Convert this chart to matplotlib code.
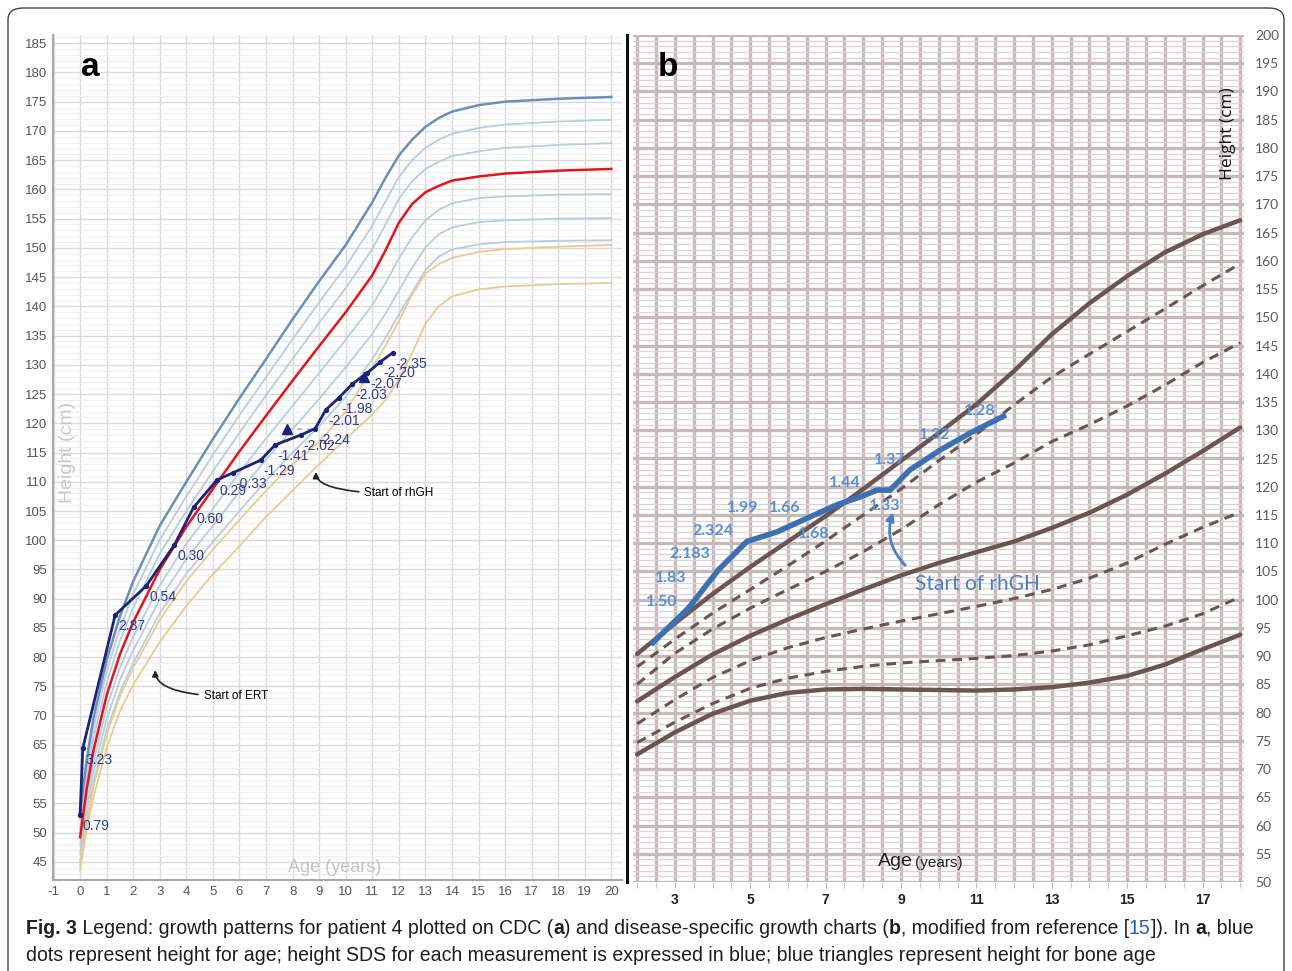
import numpy as np
import matplotlib.pyplot as plt
from matplotlib.ticker import MultipleLocator, FixedLocator
from matplotlib.patches import FancyBboxPatch

plt.rcParams['axes.unicode_minus'] = False

# ---------------- data: panel a (CDC chart) ----------------
ages_a = [0, 0.25, 0.5, 1, 1.5, 2, 3, 4, 5, 6, 7, 8, 9, 10, 11, 11.5, 12, 12.5, 13, 13.5, 14, 15, 16, 18, 20]
p97 = [53.5, 62.5, 69.5, 79.5, 87.0, 93.0, 102.5, 110.0, 117.3, 124.3, 131.0, 137.8, 144.3, 150.5, 157.8, 162.0, 165.8, 168.5, 170.7, 172.2, 173.3, 174.4, 175.0, 175.5, 175.8]
p90 = [52.1, 60.9, 67.7, 77.6, 84.9, 90.8, 100.1, 107.5, 114.6, 121.4, 127.9, 134.4, 140.7, 146.8, 153.8, 158.0, 162.1, 165.0, 167.1, 168.5, 169.5, 170.5, 171.1, 171.6, 171.9]
p75 = [50.7, 59.3, 66.0, 75.6, 82.8, 88.5, 97.7, 105.0, 111.8, 118.4, 124.8, 131.0, 137.2, 143.1, 149.8, 154.0, 158.4, 161.4, 163.5, 164.7, 165.7, 166.5, 167.1, 167.6, 167.9]
p50 = [49.2, 57.5, 64.0, 73.5, 80.5, 86.0, 95.0, 102.3, 108.8, 115.2, 121.3, 127.3, 133.2, 139.0, 145.3, 149.6, 154.3, 157.5, 159.5, 160.6, 161.5, 162.2, 162.7, 163.2, 163.5]
p25 = [47.7, 55.7, 62.0, 71.4, 78.2, 83.5, 92.3, 99.4, 105.4, 111.6, 117.4, 123.0, 128.6, 134.3, 140.2, 144.0, 148.2, 151.8, 154.7, 156.5, 157.6, 158.5, 158.8, 159.1, 159.2]
p10 = [46.3, 54.1, 60.3, 69.4, 76.1, 81.2, 89.9, 96.8, 102.5, 108.3, 113.8, 119.0, 124.2, 129.6, 135.3, 138.8, 142.7, 146.6, 150.1, 152.3, 153.5, 154.4, 154.7, 155.0, 155.1]
p03 = [45.0, 52.5, 58.5, 67.5, 74.0, 79.0, 87.5, 94.3, 99.7, 105.0, 110.2, 115.0, 119.5, 124.5, 131.0, 134.6, 138.6, 142.4, 146.2, 148.5, 149.7, 150.6, 151.0, 151.2, 151.3]
yel1 = [44.5, 51.8, 57.8, 66.8, 73.3, 78.2, 86.4, 93.0, 98.4, 103.5, 108.5, 113.0, 116.8, 122.0, 129.5, 133.3, 137.5, 142.0, 145.6, 147.2, 148.3, 149.3, 149.8, 150.2, 150.5]
yel2 = [43.5, 50.5, 56.0, 64.5, 70.8, 75.3, 82.6, 88.8, 94.2, 99.0, 104.0, 108.5, 113.0, 117.3, 121.5, 124.0, 127.5, 132.0, 137.0, 140.0, 141.7, 142.9, 143.4, 143.8, 144.0]

# patient 4, height for age with SDS labels
pt_age = [0.0, 0.1, 1.32, 2.49, 3.55, 4.27, 5.15, 5.74, 6.8, 7.34, 8.31, 8.85, 9.25, 9.73, 10.24, 10.81, 11.3, 11.78]
pt_height = [53.0, 64.4, 87.2, 92.2, 99.2, 105.6, 110.3, 111.5, 113.7, 116.3, 118.0, 119.1, 122.3, 124.3, 126.7, 128.6, 130.5, 132.1]
pt_sds = ['0.79', '3.23', '2.87', '0.54', '0.30', '0.60', '0.29', '-0.33', '-1.29', '-1.41', '-2.02',
          '-2.24', '-2.01', '-1.98', '-2.03', '-2.07', '-2.20', '-2.35']
# bone age triangles
bone_age = [7.78, 10.67]
bone_height = [119.1, 128.0]

# ---------------- data: panel b (disease-specific chart) ----------------
ages_b = [2, 3, 4, 5, 6, 7, 8, 9, 10, 11, 12, 13, 14, 15, 16, 17, 18]
b_s1 = [90.4, 95.8, 101.0, 105.8, 110.3, 114.8, 119.6, 124.6, 129.5, 134.6, 140.5, 147.0, 152.5, 157.3, 161.5, 164.7, 167.2]
b_d1 = [88.1, 93.0, 97.6, 101.8, 106.0, 110.4, 115.0, 119.6, 124.6, 129.3, 134.5, 139.4, 143.5, 147.5, 151.5, 155.6, 159.5]
b_d2 = [85.0, 90.5, 94.8, 98.5, 101.8, 105.0, 108.5, 112.4, 116.8, 120.8, 124.2, 128.0, 131.0, 134.3, 138.0, 142.0, 145.5]
b_s2 = [82.0, 86.3, 90.3, 93.6, 96.5, 99.2, 101.8, 104.3, 106.5, 108.4, 110.3, 112.7, 115.4, 118.6, 122.3, 126.3, 130.5]
b_d3 = [78.0, 82.3, 86.2, 89.2, 91.5, 93.3, 94.8, 96.2, 97.5, 98.8, 100.2, 101.8, 103.8, 106.5, 109.8, 112.8, 115.5]
b_d4 = [74.7, 78.3, 81.6, 84.3, 86.1, 87.3, 88.2, 88.8, 89.2, 89.6, 90.1, 90.9, 92.0, 93.6, 95.3, 97.5, 100.5]
b_s3 = [72.6, 76.5, 79.8, 82.1, 83.5, 84.1, 84.2, 84.1, 84.0, 83.9, 84.1, 84.5, 85.3, 86.5, 88.5, 91.2, 93.8]

pb_age = [2.42, 3.36, 4.16, 4.91, 5.71, 6.5, 7.3, 7.92, 8.36, 8.71, 9.24, 10.04, 10.83, 11.72]
pb_height = [92.4, 98.5, 105.3, 110.3, 112.0, 114.4, 116.8, 118.2, 119.4, 119.4, 123.0, 126.5, 129.5, 132.5]
pb_labels = ['1.50', '1.83', '2.183', '2.324', '1.99', '1.66', '1.68', '1.44', '1.33', '1.37', '1.32', '1.28']
pb_label_age = [2.66, 2.90, 3.39, 4.01, 4.80, 5.91, 6.68, 7.52, 8.58, 8.69, 9.90, 11.10]
pb_label_h = [99.6, 103.9, 108.0, 112.2, 116.3, 116.3, 111.6, 120.7, 116.5, 124.7, 129.2, 133.4]

W, H = 1292, 971
fig = plt.figure(figsize=(W / 100, H / 100), dpi=100)

def px_rect(x0, y0, x1, y1):
    return [x0 / W, 1 - y1 / H, (x1 - x0) / W, (y1 - y0) / H]

sans = ['Liberation Sans', 'DejaVu Sans']
lato = ['Lato', 'DejaVu Sans']

# ================= panel a =================
ax = fig.add_axes(px_rect(53, 35, 622, 880))
ax.set_xlim(-1.02, 20.4)
ax.set_ylim(41.9, 186.4)
ax.yaxis.set_minor_locator(MultipleLocator(1))
ax.grid(which='major', color='#dadada', lw=1.0)
ax.grid(which='minor', axis='y', color='#eeeeee', lw=0.7)
ax.set_axisbelow(True)
ax.set_xticks(range(-1, 21))
ax.set_yticks(range(45, 186, 5))
ax.tick_params(which='both', length=0, labelsize=9.5, labelcolor='#555555', pad=4)
for lab in ax.get_xticklabels() + ax.get_yticklabels():
    lab.set_family(sans)
for s in ['top', 'right']:
    ax.spines[s].set_visible(False)
for s in ['left', 'bottom']:
    ax.spines[s].set_color('#a8a8a8')
    ax.spines[s].set_linewidth(1.5)

light_blue = '#b9cde0'
for curve in [p90, p75, p25, p10, p03]:
    ax.plot(ages_a, curve, color=light_blue, lw=1.3, zorder=2)
for curve in [yel1, yel2]:
    ax.plot(ages_a, curve, color='#e8cc8f', lw=1.3, zorder=2)
ax.plot(ages_a, p97, color='#6b90b8', lw=1.8, zorder=3)
ax.plot(ages_a, p50, color='#e3141b', lw=1.8, zorder=3)

# bone age link (dashed) and triangles
ax.plot([bone_age[0], pt_age[11]], [bone_height[0], pt_height[11]], color='#b0b4c8', lw=1.2,
        ls=(0, (3, 3)), zorder=4)
ax.plot(pt_age, pt_height, color='#1b237a', lw=2.0, marker='o', ms=2.8, zorder=5)
ax.plot(bone_age, bone_height, ls='none', marker='^', ms=7, color='#1b237a', zorder=6)
for a, h, s in zip(pt_age, pt_height, pt_sds):
    ax.annotate(s, (a, h), xytext=(2, -8), textcoords='offset points', fontsize=10,
                color='#323b8c', va='center', ha='left', family=sans, zorder=7)

ax.annotate('Start of ERT', xy=(2.83, 77.8), xytext=(4.65, 73.3), fontsize=8.5, family=sans,
            va='center', ha='left',
            arrowprops=dict(arrowstyle='-|>', color='#222222', lw=1.2, mutation_scale=9,
                            shrinkA=2, shrinkB=0,
                            connectionstyle='angle3,angleA=0,angleB=90'))
ax.annotate('Start of rhGH', xy=(8.88, 111.7), xytext=(10.7, 108.0), fontsize=8.5, family=sans,
            va='center', ha='left',
            arrowprops=dict(arrowstyle='-|>', color='#222222', lw=1.2, mutation_scale=9,
                            shrinkA=2, shrinkB=0,
                            connectionstyle='angle3,angleA=0,angleB=90'))

ax.text(-0.48, 115, 'Height (cm)', rotation=90, fontsize=14, color='#c9c9c9', va='center',
        ha='center', family=sans)
ax.text(9.6, 42.6, 'Age (years)', fontsize=13, color='#c4c4c4', va='bottom', ha='center',
        family=sans)
fig.text(90 / W, 1 - 68 / H, 'a', fontsize=24, fontweight='bold', ha='center', va='center',
         family=sans)

# ================= panel b =================
bx = fig.add_axes(px_rect(633, 35, 1244, 882))
bx.set_xlim(1.89, 18.1)
bx.set_ylim(50, 200)
bx.xaxis.set_major_locator(FixedLocator([3, 5, 7, 9, 11, 13, 15, 17]))
bx.xaxis.set_minor_locator(MultipleLocator(0.5))
bx.yaxis.set_major_locator(MultipleLocator(5))
bx.yaxis.set_minor_locator(MultipleLocator(1))
grid_col = '#c6b9ba'
bx.grid(which='major', color=grid_col, lw=2.4)
bx.grid(which='minor', axis='x', color=grid_col, lw=2.4)
bx.grid(which='minor', axis='y', color='#ddd3d4', lw=0.9)
bx.set_axisbelow(True)
bx.yaxis.tick_right()
bx.tick_params(axis='y', which='both', length=0, labelsize=10, labelcolor='#5a5a5a', pad=8)
bx.tick_params(axis='x', which='major', length=4, color=grid_col, labelsize=10,
               labelcolor='#222222', pad=4)
bx.tick_params(axis='x', which='minor', length=4, color=grid_col)
for lab in bx.get_yticklabels():
    lab.set_family(lato)
for lab in bx.get_xticklabels():
    lab.set_family(sans)
    lab.set_fontweight('bold')
for s in bx.spines.values():
    s.set_visible(False)

brown = '#6a5555'
for curve in [b_s1, b_s2, b_s3]:
    bx.plot(ages_b, curve, color=brown, lw=3.2, zorder=3, solid_capstyle='round')
for curve in [b_d1, b_d2, b_d3, b_d4]:
    bx.plot(ages_b, curve, color=brown, lw=2.2, ls=(0, (3.2, 2.2)), zorder=3)

blue_b = '#3c70b3'
bx.plot(pb_age, pb_height, color=blue_b, lw=4, zorder=5, solid_joinstyle='miter')
for a, h, s in zip(pb_label_age, pb_label_h, pb_labels):
    bx.text(a, h, s, fontsize=11.5, fontweight='bold', color='#5b8fd0', ha='center', va='center',
            family=lato, zorder=6)

bx.text(9.38, 102.8, 'Start of rhGH', fontsize=15, color='#4a7fc4', ha='left', va='center',
        family=lato, zorder=6)
bx.annotate('', xy=(8.79, 115.5), xytext=(9.11, 106.1),
            arrowprops=dict(arrowstyle='-|>', color='#4a7fc4', lw=2, mutation_scale=12,
                            shrinkA=0, shrinkB=0, connectionstyle='arc3,rad=-0.3'), zorder=6)

bx.text(17.68, 182.6, 'Height (cm)', rotation=90, fontsize=12.5, color='#111111',
        ha='center', va='center', family=['Open Sans', 'DejaVu Sans'])
bx.text(8.39, 53.6, 'Age', fontsize=14, color='#222222', ha='left', va='center', family=sans)
bx.text(9.36, 53.4, '(years)', fontsize=11, color='#222222', ha='left', va='center', family=sans)
fig.text(668 / W, 1 - 68 / H, 'b', fontsize=24, fontweight='bold', ha='center', va='center',
         family=sans)

# divider between panels
fig.add_artist(plt.Line2D([627 / W, 627 / W], [1 - 35 / H, 1 - 882 / H], color='#111111', lw=2.2))

# rounded frame around the figure
fig.add_artist(FancyBboxPatch((8 / W, -0.02), (1284 - 8) / W, 1 - 8 / H + 0.02,
                              boxstyle='round,pad=0,rounding_size=0.012', transform=fig.transFigure,
                              fill=False, ec='#444444', lw=1.0))

# ---------------- caption with mixed styles ----------------
cap_font = ['Liberation Sans', 'DejaVu Sans']
renderer = fig.canvas.get_renderer()

def rich_line(x_px, y_px, parts, size):
    x = x_px
    made = []
    for text, style in parts:
        kw = dict(fontsize=size, family=cap_font, color='#1e1e1e', va='center', ha='left')
        kw.update(style)
        t = fig.text(x / W, 1 - y_px / H, text, **kw)
        made.append(t)
        x += t.get_window_extent(renderer).width
    return made, x - x_px

B = {'fontweight': 'bold'}
line1 = [('Fig. 3', B), (' Legend: growth patterns for patient 4 plotted on CDC (', {}),
         ('a', B), (') and disease-specific growth charts (', {}), ('b', B),
         (', modified from reference [', {}), ('15', {'color': '#2a5db0'}),
         (']). In ', {}), ('a', B), (', blue', {})]
line2 = [('dots represent height for age; height SDS for each measurement is expressed '
          'in blue; blue triangles represent height for bone age', {})]

# fit the first caption line to the width it takes in the reference
made, width = rich_line(26, 928, line1, 12)
for t in made:
    t.remove()
cap_size = 12 * 1227 / width
rich_line(26, 928, line1, cap_size)
rich_line(26, 955, line2, cap_size)

fig.savefig('out.png', dpi=100)
